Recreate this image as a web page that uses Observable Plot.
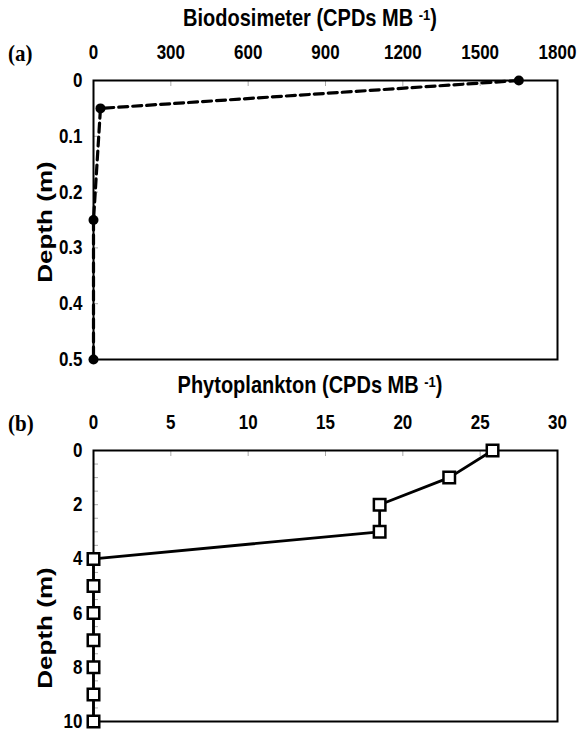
<!DOCTYPE html>
<html><head><meta charset="utf-8">
<script src="https://cdn.jsdelivr.net/npm/d3@7"></script>
<script src="https://cdn.jsdelivr.net/npm/@observablehq/plot@0.6"></script>
<style>
body{margin:0;background:#fff;}
#wrap{position:relative;width:580px;height:731px;overflow:hidden;font-family:"Liberation Sans",Arial,sans-serif;color:#000;}
.title{position:absolute;left:60px;width:500px;text-align:center;font-weight:bold;font-size:20px;line-height:24px;white-space:nowrap;transform:scaleY(1.18);}
.title sup{font-size:13px;vertical-align:top;position:relative;top:-2px;}
.tag{position:absolute;left:8px;font-family:"Liberation Serif","Times New Roman",serif;font-weight:bold;font-size:21px;line-height:24px;transform:scaleY(1.1);}
.ylab{position:absolute;font-weight:bold;font-size:20px;line-height:24px;white-space:nowrap;transform:translate(-50%,-50%) rotate(-90deg) scaleX(1.3);}
.panel{position:absolute;left:0;}
</style></head>
<body><div id="wrap">
<div class="title" style="top:6px">Biodosimeter (CPDs MB <sup>-1</sup>)</div>
<div class="tag" style="top:41px">(a)</div>
<div class="ylab" style="left:45px;top:222px">Depth (m)</div>
<div id="pa" class="panel" style="top:0px"></div>
<div class="title" style="top:373px">Phytoplankton (CPDs MB <sup>-1</sup>)</div>
<div class="tag" style="top:411px">(b)</div>
<div class="ylab" style="left:45px;top:628px">Depth (m)</div>
<div id="pb" class="panel" style="top:370px"></div>
</div>
<script>
// Panel (a): Biodosimeter
const bioDepth = [0, 0.05, 0.25, 0.5];
const bioValue = [1650, 27, 0, 0];
const bioTicksX = [0, 300, 600, 900, 1200, 1500, 1800];
const bioTicksY = [0, 0.1, 0.2, 0.3, 0.4, 0.5];

// Panel (b): Phytoplankton
const phytoDepth = [0, 1, 2, 3, 4, 5, 6, 7, 8, 9, 10];
const phytoValue = [25.8, 23, 18.5, 18.5, 0, 0, 0, 0, 0, 0, 0];
const phytoTicksX = [0, 5, 10, 15, 20, 25, 30];
const phytoTicksY = [0, 2, 4, 6, 8, 10];
const phytoMinorY = [0.5, 1, 1.5, 2, 2.5, 3, 3.5, 4, 4.5, 5, 5.5, 6, 6.5, 7, 7.5, 8, 8.5, 9, 9.5];

const bio = bioDepth.map((d, i) => ({depth: d, value: bioValue[i]}));
const phyto = phytoDepth.map((d, i) => ({depth: d, value: phytoValue[i]}));

const fmtY = d => d === 0 ? "0" : String(+d.toFixed(1));
const fmtX = d => String(d);
const baseStyle = {fontFamily: "'Liberation Sans', Arial, sans-serif", fontSize: "17px", fontWeight: "bold", background: "transparent", overflow: "visible"};

const mL = 93, mR = 23;

function stretch(svg) {
  svg.querySelectorAll("g[aria-label$='tick label'] text").forEach(t => {
    const tr = t.getAttribute("transform") || "";
    t.setAttribute("transform", tr + " scale(1,1.2)");
  });
  return svg;
}

const a = Plot.plot({
  width: 580, height: 370,
  marginTop: 80, marginBottom: 11, marginLeft: mL, marginRight: mR,
  style: baseStyle,
  x: {domain: [0, 1800], axis: null},
  y: {domain: [0, 0.5], reverse: true, axis: null},
  marks: [
    Plot.axisX(bioTicksX, {anchor: "top", tickSize: 0, tickPadding: 22, tickFormat: fmtX, label: null, fill: "black"}),
    Plot.axisY(bioTicksY, {anchor: "left", tickSize: 0, tickPadding: 11, tickFormat: fmtY, label: null, fill: "black"}),
    Plot.tickX(bioTicksX.slice(1, -1), {x: d => d, insetBottom: 273, stroke: "#aaa", strokeWidth: 1}),
    Plot.tickY(bioTicksY.slice(1, -1), {y: d => d, insetRight: 459, stroke: "#aaa", strokeWidth: 1}),
    Plot.line(bio, {x: "value", y: "depth", stroke: "black", strokeWidth: 3.2, strokeDasharray: "9,5"}),
    Plot.frame({stroke: "black", strokeWidth: 2}),
    Plot.dot(bio, {x: "value", y: "depth", r: 5, fill: "black"})
  ]
});
document.getElementById("pa").append(stretch(a));

const b = Plot.plot({
  width: 580, height: 361,
  marginTop: 80, marginBottom: 10, marginLeft: mL, marginRight: mR,
  style: baseStyle,
  x: {domain: [0, 30], axis: null},
  y: {domain: [0, 10], reverse: true, axis: null},
  marks: [
    Plot.axisX(phytoTicksX, {anchor: "top", tickSize: 0, tickPadding: 22, tickFormat: fmtX, label: null, fill: "black"}),
    Plot.axisY(phytoTicksY, {anchor: "left", tickSize: 0, tickPadding: 11, label: null, fill: "black"}),
    Plot.tickX(phytoTicksX.slice(1, -1), {x: d => d, insetBottom: 265, stroke: "#aaa", strokeWidth: 1}),
    Plot.tickY(phytoMinorY, {y: d => d, insetRight: 459, stroke: "#aaa", strokeWidth: 1}),
    Plot.line(phyto, {x: "value", y: "depth", stroke: "black", strokeWidth: 2.8}),
    Plot.frame({stroke: "black", strokeWidth: 2}),
    Plot.dot(phyto, {x: "value", y: "depth", symbol: "square", r: 6.5, fill: "white", stroke: "black", strokeWidth: 2.5})
  ]
});
document.getElementById("pb").append(stretch(b));
</script>
</body></html>
